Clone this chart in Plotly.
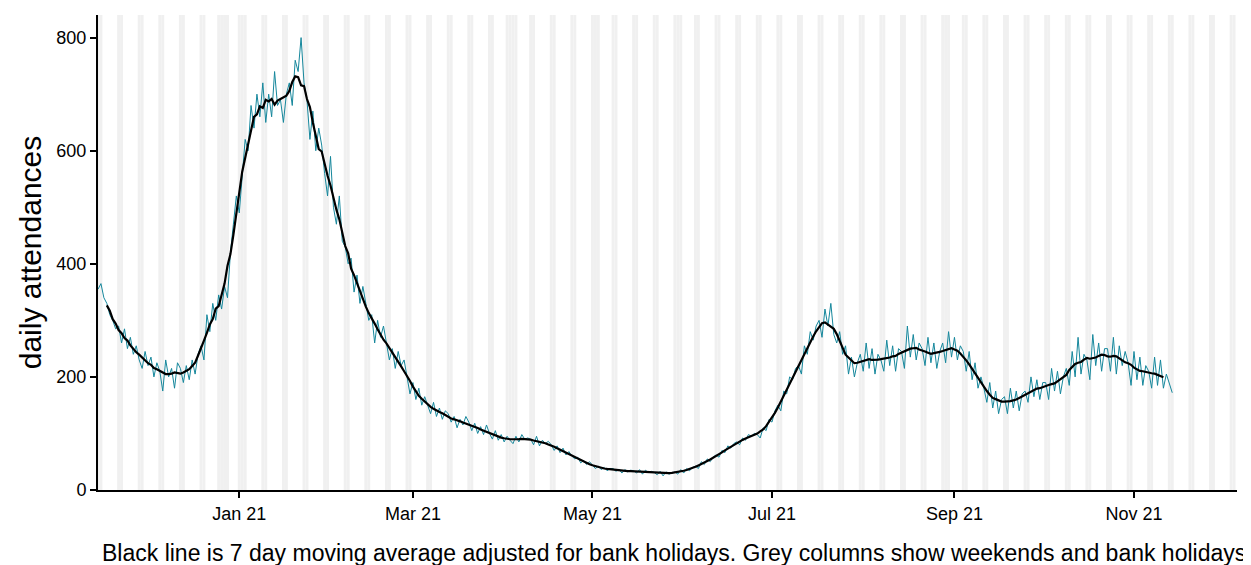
import datetime
import pandas as pd
import plotly.graph_objects as go

# daily attendances from 14 Nov 2020, one row per week (Sat..Fri)
start_date = '2020-11-14'
daily_values = [
    355, 365, 340, 330, 310, 300, 285,
    290, 260, 285, 250, 270, 240, 255,
    230, 215, 245, 220, 235, 200, 225,
    210, 175, 230, 200, 215, 180, 225,
    215, 190, 220, 195, 230, 205, 240,
    255, 230, 310, 280, 330, 300, 345,
    320, 360, 340, 420, 470, 520, 490,
    560, 620, 600, 680, 640, 700, 660,
    720, 650, 700, 660, 740, 680, 690,
    650, 700, 720, 680, 760, 740, 800,
    720, 690, 620, 670, 600, 640, 610,
    560, 520, 590, 500, 470, 520, 440,
    430, 400, 410, 350, 380, 330, 360,
    330, 300, 310, 260, 300, 270, 290,
    260, 230, 250, 215, 245, 220, 230,
    200, 170, 190, 160, 180, 150, 165,
    150, 135, 155, 130, 145, 125, 140,
    135, 120, 130, 110, 125, 115, 130,
    120, 105, 118, 100, 112, 98, 115,
    100, 90, 105, 88, 98, 85, 95,
    88, 82, 95, 85, 98, 90, 92,
    90, 80, 95, 78, 88, 82, 86,
    80, 70, 78, 66, 74, 62, 68,
    60, 55, 58, 48, 52, 45, 50,
    44, 38, 42, 36, 40, 34, 38,
    38, 33, 37, 30, 36, 32, 35,
    34, 30, 36, 28, 35, 31, 33,
    31, 27, 33, 25, 32, 28, 30,
    32, 28, 36, 30, 38, 34, 40,
    42, 38, 50, 45, 55, 50, 58,
    62, 58, 70, 66, 78, 74, 82,
    85, 80, 92, 88, 98, 95, 100,
    98, 92, 110, 105, 125, 120, 140,
    150, 140, 175, 170, 200, 195, 215,
    220, 205, 255, 240, 280, 265, 290,
    300, 270, 320, 290, 330, 275, 260,
    280, 240, 255, 205, 235, 200, 225,
    240, 210, 260, 215, 250, 205, 240,
    230, 210, 265, 220, 255, 210, 250,
    245, 215, 290, 235, 275, 230, 260,
    250, 220, 270, 225, 260, 215, 245,
    260, 225, 280, 235, 270, 230, 255,
    245, 210, 245, 195, 225, 180, 200,
    180, 155, 190, 145, 175, 135, 160,
    165, 135, 180, 145, 175, 140, 170,
    175, 155, 200, 165, 195, 160, 190,
    190, 160, 215, 175, 210, 170, 200,
    215, 185, 245, 200, 270, 205, 240,
    230, 195, 275, 220, 260, 210, 250,
    250, 210, 270, 205, 255, 220, 245,
    225, 185, 245, 195, 235, 185, 220,
    210, 180, 235, 185, 230, 180, 205,
    190, 172,
]
bank_holidays = ['2020-12-25', '2020-12-28', '2021-01-01', '2021-04-02', '2021-04-05',
                 '2021-05-03', '2021-05-31', '2021-08-30']
axis_start = '2020-11-14'
axis_end = '2021-12-06'
tick_dates = ['2021-01-01', '2021-03-01', '2021-05-01', '2021-07-01', '2021-09-01', '2021-11-01']
tick_labels = ['Jan 21', 'Mar 21', 'May 21', 'Jul 21', 'Sep 21', 'Nov 21']
caption = 'Black line is 7 day moving average adjusted for bank holidays. Grey columns show weekends and bank holidays'

dates = pd.date_range(start_date, periods=len(daily_values), freq='D')
series = pd.Series(daily_values, index=dates)
moving_avg = series.rolling(7, center=True).mean()

fig = go.Figure()

# grey columns for weekends + bank holidays
half = datetime.timedelta(hours=12)
bh = set(pd.to_datetime(bank_holidays))
for d in pd.date_range(axis_start, axis_end, freq='D'):
    if d.weekday() >= 5 or d in bh:
        fig.add_shape(type='rect', xref='x', yref='paper', x0=d - half, x1=d + half,
                      y0=0, y1=1, fillcolor='#f0f0f0', line_width=0, layer='below')

fig.add_trace(go.Scatter(x=dates, y=series, mode='lines', line=dict(color='#15879c', width=1),
                         hoverinfo='x+y', showlegend=False))
fig.add_trace(go.Scatter(x=dates, y=moving_avg, mode='lines', line=dict(color='black', width=2.2),
                         showlegend=False))

# page body has an 8px margin, so the figure is shrunk by that much
fig.update_layout(width=1243, height=557, margin=dict(l=90, r=14, t=7, b=75),
                  paper_bgcolor='white', plot_bgcolor='white',
                  font=dict(family='Arial', size=18, color='black'))
fig.update_xaxes(range=[axis_start, axis_end], tickvals=tick_dates, ticktext=tick_labels,
                 showgrid=False, showline=True, linecolor='black', linewidth=2,
                 ticks='outside', ticklen=6, tickwidth=1.5, tickcolor='black', zeroline=False,
                 automargin=False)
fig.update_yaxes(range=[0, 840], tickvals=[0, 200, 400, 600, 800], showgrid=False,
                 showline=True, linecolor='black', linewidth=2, ticks='outside', ticklen=6,
                 tickwidth=1.5, tickcolor='black', zeroline=False, automargin=False,
                 title=dict(text='daily attendances', font=dict(size=30), standoff=6))
fig.add_annotation(text=caption, xref='paper', yref='paper', x=1.0097, y=-0.133,
                   xanchor='right', yanchor='middle', showarrow=False, font=dict(size=23))

fig.write_html('out.html')
